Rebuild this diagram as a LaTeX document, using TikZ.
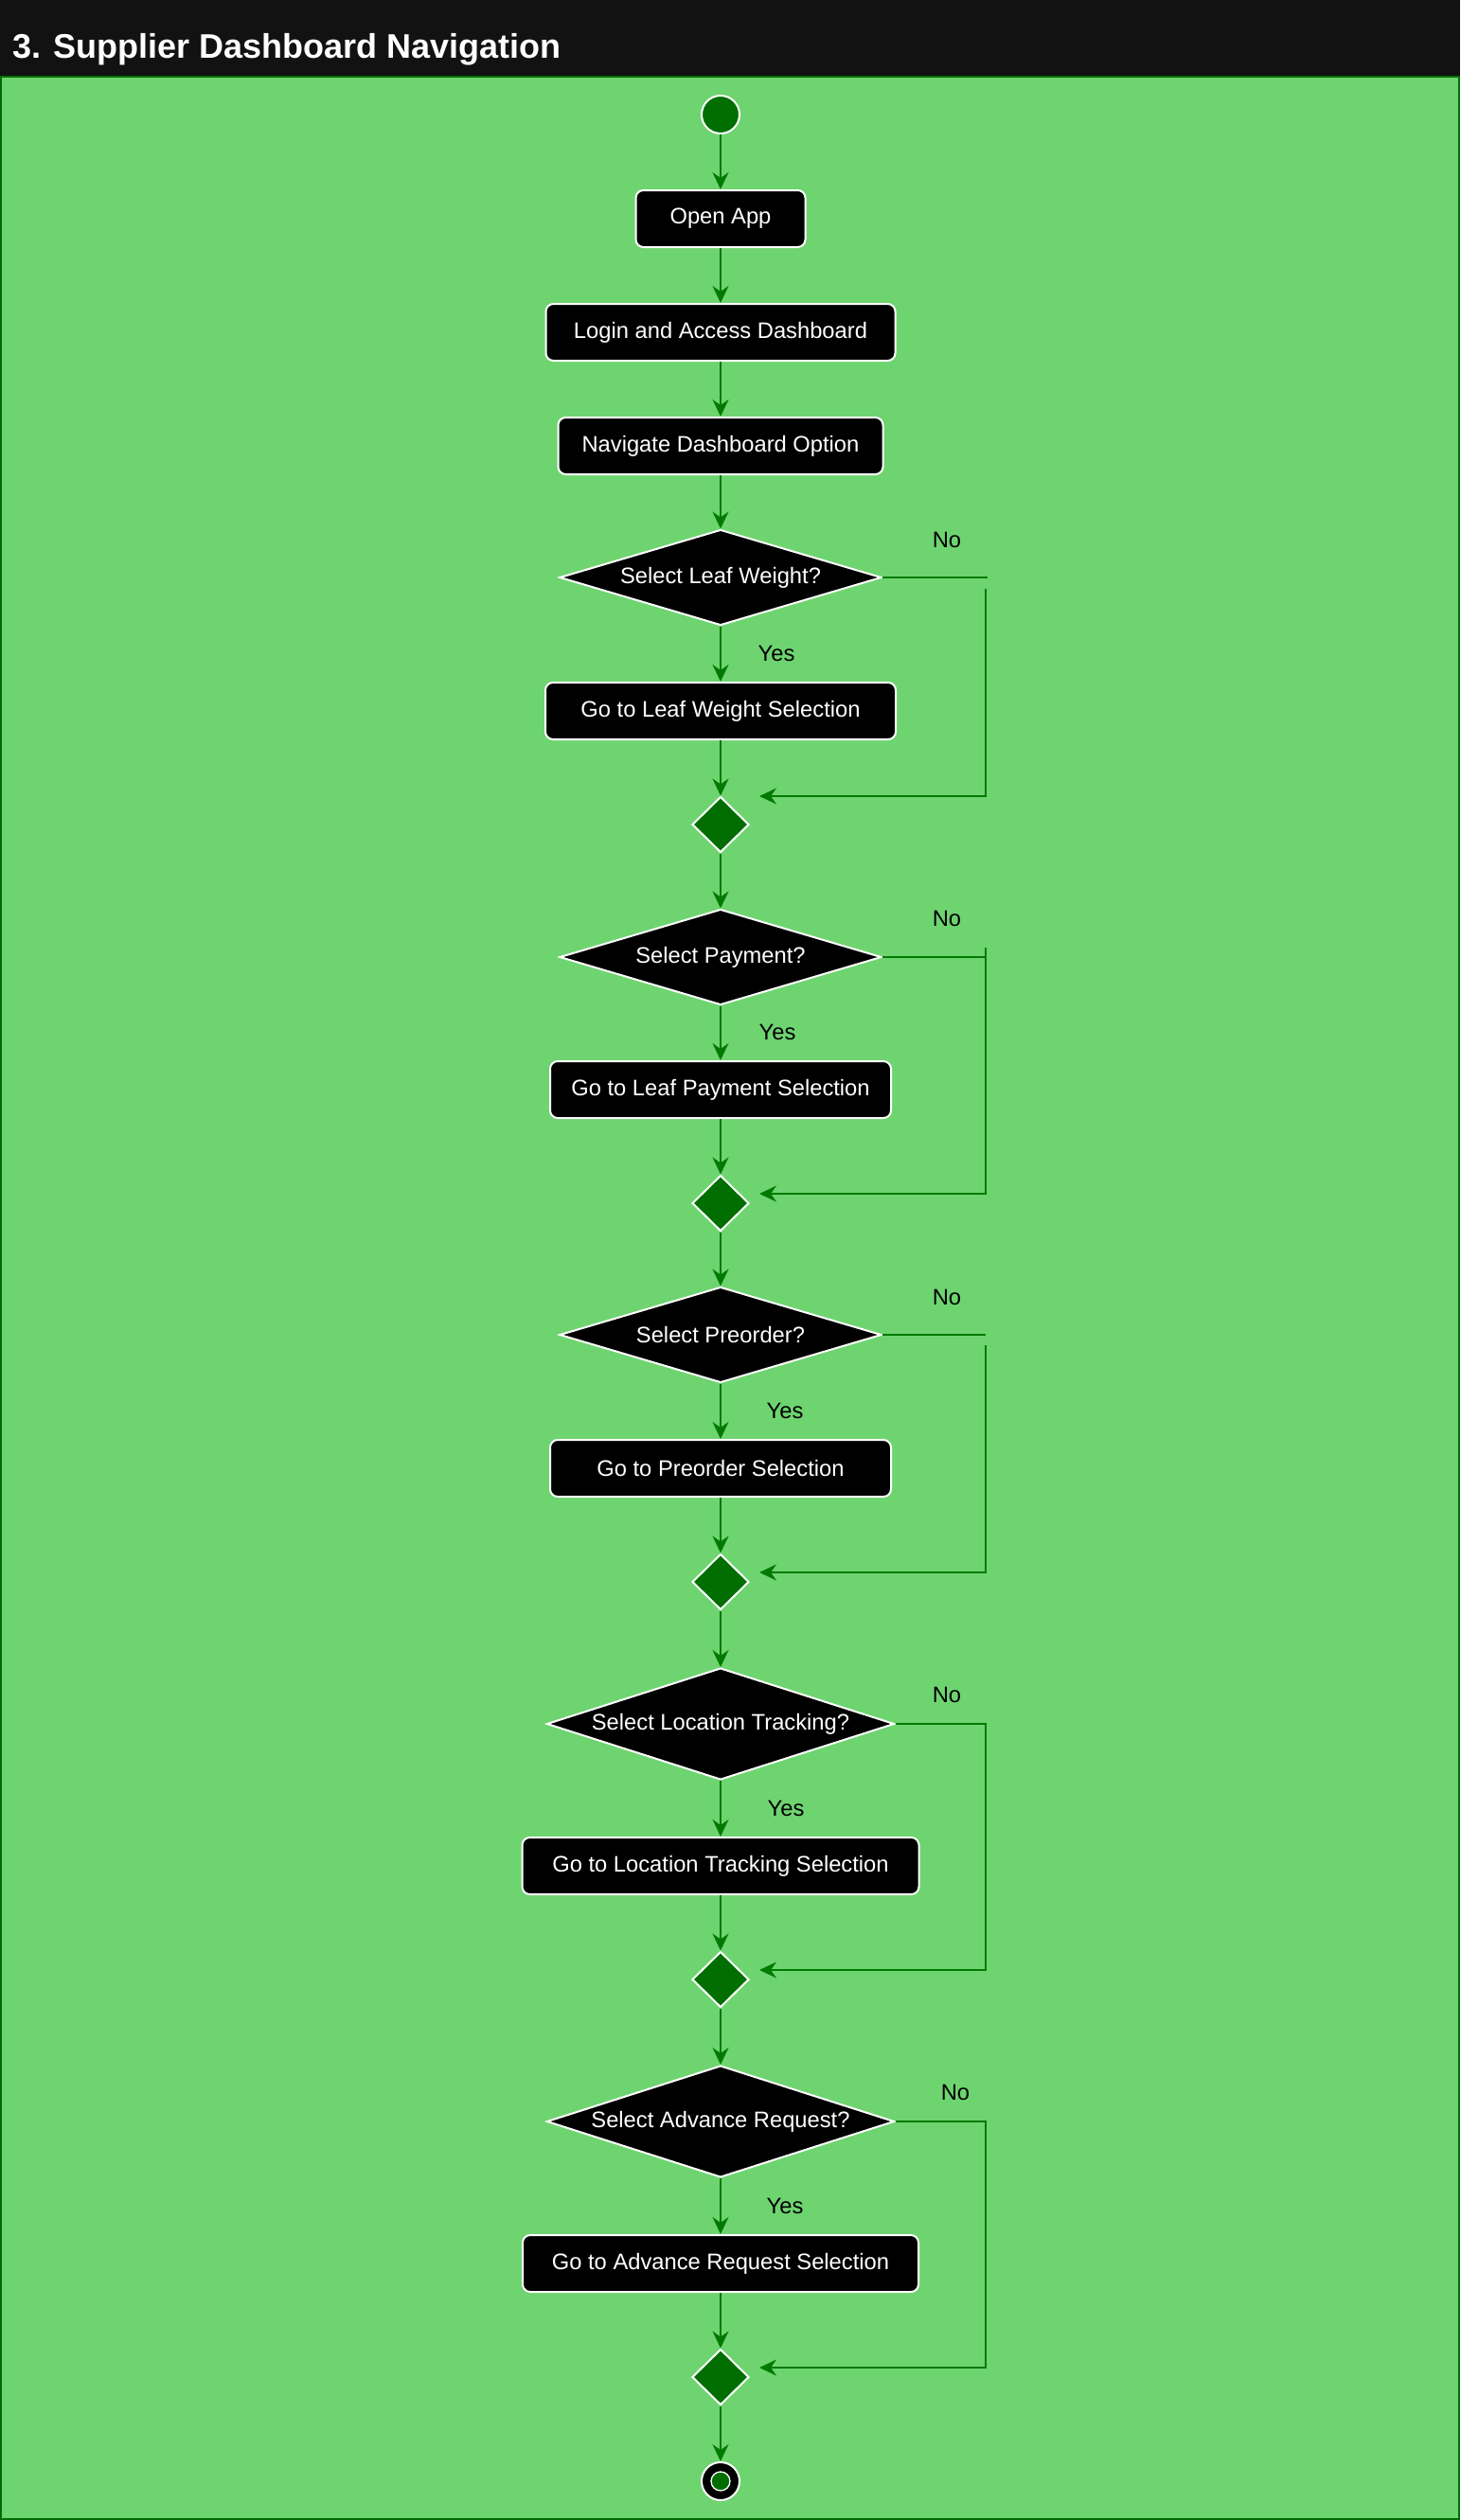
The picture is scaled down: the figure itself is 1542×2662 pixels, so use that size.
\documentclass[tikz,border=0pt]{standalone}
\usepackage{fontspec}
\setmainfont{Liberation Sans}
\usetikzlibrary{arrows.meta,shapes.geometric}
\definecolor{bggreen}{RGB}{110,212,112}
\definecolor{linegreen}{RGB}{0,122,0}
\definecolor{darkfill}{RGB}{0,110,0}
\definecolor{titlebar}{RGB}{18,18,18}
\definecolor{framegreen}{RGB}{0,110,0}
\begin{document}
\begin{tikzpicture}[x=0.75pt,y=-0.75pt,
  font=\fontsize{17.8pt}{21pt}\selectfont,
  actbox/.style={draw=white, line width=1.5pt, fill=black, rounded corners=6pt, text=white, minimum height=45pt, inner sep=0pt},
  decision/.style={diamond, draw=white, line width=1.5pt, fill=black, inner sep=0pt, label={[text=white]center:#1}},
  smalldec/.style={minimum width=255pt, minimum height=75.75pt},
  bigdec/.style={minimum width=275.25pt, minimum height=88.5pt},
  merge/.style={diamond, draw=white, line width=1.5pt, fill=darkfill, minimum width=45pt, minimum height=44.25pt, inner sep=0pt},
  flow/.style={draw=linegreen, line width=1.5pt, -{Stealth[length=13.5pt,width=12.75pt,inset=4.5pt]}},
  plainline/.style={draw=linegreen, line width=1.5pt},
  lbl/.style={text=black, inner sep=0pt}]
\useasboundingbox (0,0) rectangle (1542,2662);
\fill[titlebar] (0,0) rectangle (1542,81);
\filldraw[fill=bggreen, draw=framegreen, line width=1.5pt] (1,81) rectangle (1541,2661);
\node[anchor=base west, text=white, font=\fontsize{27pt}{32pt}\selectfont\bfseries, inner sep=0pt] (title) at (13,62) {3. Supplier Dashboard Navigation};

% nodes
\node[circle, draw=white, line width=1.5pt, fill=darkfill, minimum size=30pt, inner sep=0pt] (start) at (761,121) {};
\node[actbox, minimum width=134.25pt] (open) at (761,231) {Open App};
\node[actbox, minimum width=276.75pt] (login) at (761,351) {Login and Access Dashboard};
\node[actbox, minimum width=257.25pt] (nav) at (761,471) {Navigate Dashboard Option};

\node[decision={Select Leaf Weight?}, smalldec] (d1) at (761,610) {};
\node[actbox, minimum width=277.5pt] (g1) at (761,751) {Go to Leaf Weight Selection};
\node[merge] (m1) at (761,871) {};

\node[decision={Select Payment?}, smalldec] (d2) at (761,1011) {};
\node[actbox, minimum width=270pt] (g2) at (761,1151) {Go to Leaf Payment Selection};
\node[merge] (m2) at (761,1271) {};

\node[decision={Select Preorder?}, smalldec] (d3) at (761,1410) {};
\node[actbox, minimum width=270pt] (g3) at (761,1551) {Go to Preorder Selection};
\node[merge] (m3) at (761,1671) {};

\node[decision={Select Location Tracking?}, bigdec] (d4) at (761,1821) {};
\node[actbox, minimum width=314.25pt] (g4) at (761,1971) {Go to Location Tracking Selection};
\node[merge] (m4) at (761,2091) {};

\node[decision={Select Advance Request?}, bigdec] (d5) at (761,2241) {};
\node[actbox, minimum width=313.5pt] (g5) at (761,2391) {Go to Advance Request Selection};
\node[merge] (m5) at (761,2511) {};

\node[circle, draw=white, line width=1.5pt, fill=black, minimum size=30pt, inner sep=0pt] (end) at (761,2621) {};
\node[circle, draw=white, line width=1pt, fill=darkfill, minimum size=15pt, inner sep=0pt] (endin) at (761,2621) {};

% labels
\node[lbl] (y1) at (820,690) {Yes};
\node[lbl] (y2) at (821,1090) {Yes};
\node[lbl] (y3) at (829,1490) {Yes};
\node[lbl] (y4) at (830,1910) {Yes};
\node[lbl] (y5) at (829,2330) {Yes};
\node[lbl] (n1) at (1000,570) {No};
\node[lbl] (n2) at (1000,970) {No};
\node[lbl] (n3) at (1000,1370) {No};
\node[lbl] (n4) at (1000,1790) {No};
\node[lbl] (n5) at (1009,2210) {No};

% main flow
\draw[flow] (start) -- (open);
\draw[flow] (open) -- (login);
\draw[flow] (login) -- (nav);
\draw[flow] (nav) -- (d1);
\draw[flow] (d1) -- (g1);
\draw[flow] (g1) -- (m1);
\draw[flow] (m1) -- (d2);
\draw[flow] (d2) -- (g2);
\draw[flow] (g2) -- (m2);
\draw[flow] (m2) -- (d3);
\draw[flow] (d3) -- (g3);
\draw[flow] (g3) -- (m3);
\draw[flow] (m3) -- (d4);
\draw[flow] (d4) -- (g4);
\draw[flow] (g4) -- (m4);
\draw[flow] (m4) -- (d5);
\draw[flow] (d5) -- (g5);
\draw[flow] (g5) -- (m5);
\draw[flow] (m5) -- (end);

% "No" branches
\coordinate (c1a) at (1043,610);  \coordinate (c1b) at (1041,622);  \coordinate (c1c) at (1041,841);  \coordinate (t1) at (802,841);
\coordinate (c2a) at (1041,1011); \coordinate (c2b) at (1041,1001); \coordinate (c2c) at (1041,1261); \coordinate (t2) at (802,1261);
\coordinate (c3a) at (1041,1410); \coordinate (c3b) at (1041,1421); \coordinate (c3c) at (1041,1661); \coordinate (t3) at (802,1661);
\coordinate (c4a) at (1041,1821); \coordinate (c4c) at (1041,2081); \coordinate (t4) at (802,2081);
\coordinate (c5a) at (1041,2241); \coordinate (c5c) at (1041,2501); \coordinate (t5) at (802,2501);

\draw[plainline] (d1.east) -- (c1a);
\draw[flow] (c1b) -- (c1c) -- (t1);
\draw[plainline] (d2.east) -- (c2a);
\draw[flow] (c2b) -- (c2c) -- (t2);
\draw[plainline] (d3.east) -- (c3a);
\draw[flow] (c3b) -- (c3c) -- (t3);
\draw[flow] (d4.east) -- (c4a) -- (c4c) -- (t4);
\draw[flow] (d5.east) -- (c5a) -- (c5c) -- (t5);
\end{tikzpicture}
\end{document}
